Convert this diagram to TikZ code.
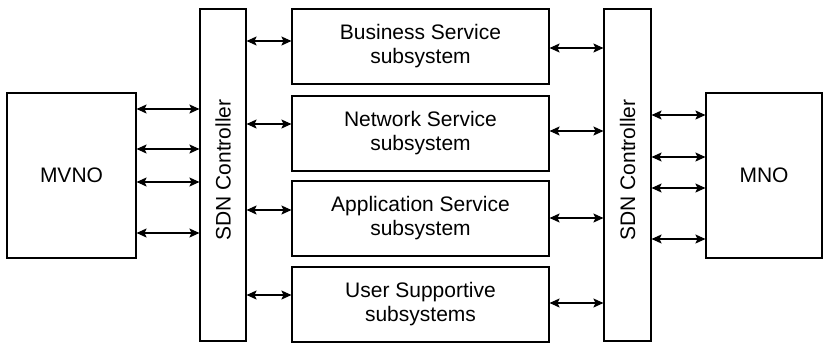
\documentclass[tikz,border=0pt]{standalone}
\usepackage{fontspec}
\setmainfont{Liberation Sans}
\usetikzlibrary{arrows.meta}
\begin{document}
\begin{tikzpicture}[x=1pt,y=-1pt,
  every node/.style={font=\fontsize{21}{24}\selectfont},
  blk/.style={draw=black, line width=1.1pt, inner sep=0pt, align=center},
  sub/.style={blk, minimum width=257pt, minimum height=75pt},
  ctrl/.style={blk, minimum width=46pt, minimum height=332pt},
  peer/.style={blk, minimum height=165pt},
  biarrow/.style={line width=1.1pt, {Stealth[length=10pt,width=9pt,inset=2pt]}-{Stealth[length=10pt,width=9pt,inset=2pt]}}
]
\useasboundingbox (0,0) rectangle (825,343);

% operators
\node[peer, minimum width=129pt] (mvno) at (71.5,175.5) {MVNO};
\node[peer, minimum width=116pt] (mno) at (764,175.5) {MNO};

% SDN controllers
\node[ctrl] (sdnl) at (223,175) {};
\node[ctrl, minimum width=47pt] (sdnr) at (627.5,175) {};
\node[rotate=90] (sdnltxt) at (223,170) {SDN Controller};
\node[rotate=90] (sdnrtxt) at (627.5,170) {SDN Controller};

% subsystems
\node[sub] (bss) at (420.5,46.5) {Business Service\\subsystem};
\node[sub] (nss) at (420.5,133.5) {Network Service\\subsystem};
\node[sub] (ass) at (420.5,218.5) {Application Service\\subsystem};
\node[sub] (uss) at (420.5,304.5) {User Supportive\\subsystems};

% MVNO <-> left controller
\foreach \y in {109,149,182,233}
  \draw[biarrow] (mvno.east |- 0,\y) -- (sdnl.west |- 0,\y);

% left controller <-> subsystems
\draw[biarrow] (sdnl.east |- 0,41) -- (bss.west |- 0,41);
\draw[biarrow] (sdnl.east |- 0,124) -- (nss.west |- 0,124);
\draw[biarrow] (sdnl.east |- 0,210) -- (ass.west |- 0,210);
\draw[biarrow] (sdnl.east |- 0,295) -- (uss.west |- 0,295);

% subsystems <-> right controller
\draw[biarrow] (bss.east |- 0,48) -- (sdnr.west |- 0,48);
\draw[biarrow] (nss.east |- 0,131) -- (sdnr.west |- 0,131);
\draw[biarrow] (ass.east |- 0,218) -- (sdnr.west |- 0,218);
\draw[biarrow] (uss.east |- 0,303) -- (sdnr.west |- 0,303);

% right controller <-> MNO
\foreach \y in {115,157,188,239}
  \draw[biarrow] (sdnr.east |- 0,\y) -- (mno.west |- 0,\y);
\end{tikzpicture}
\end{document}
